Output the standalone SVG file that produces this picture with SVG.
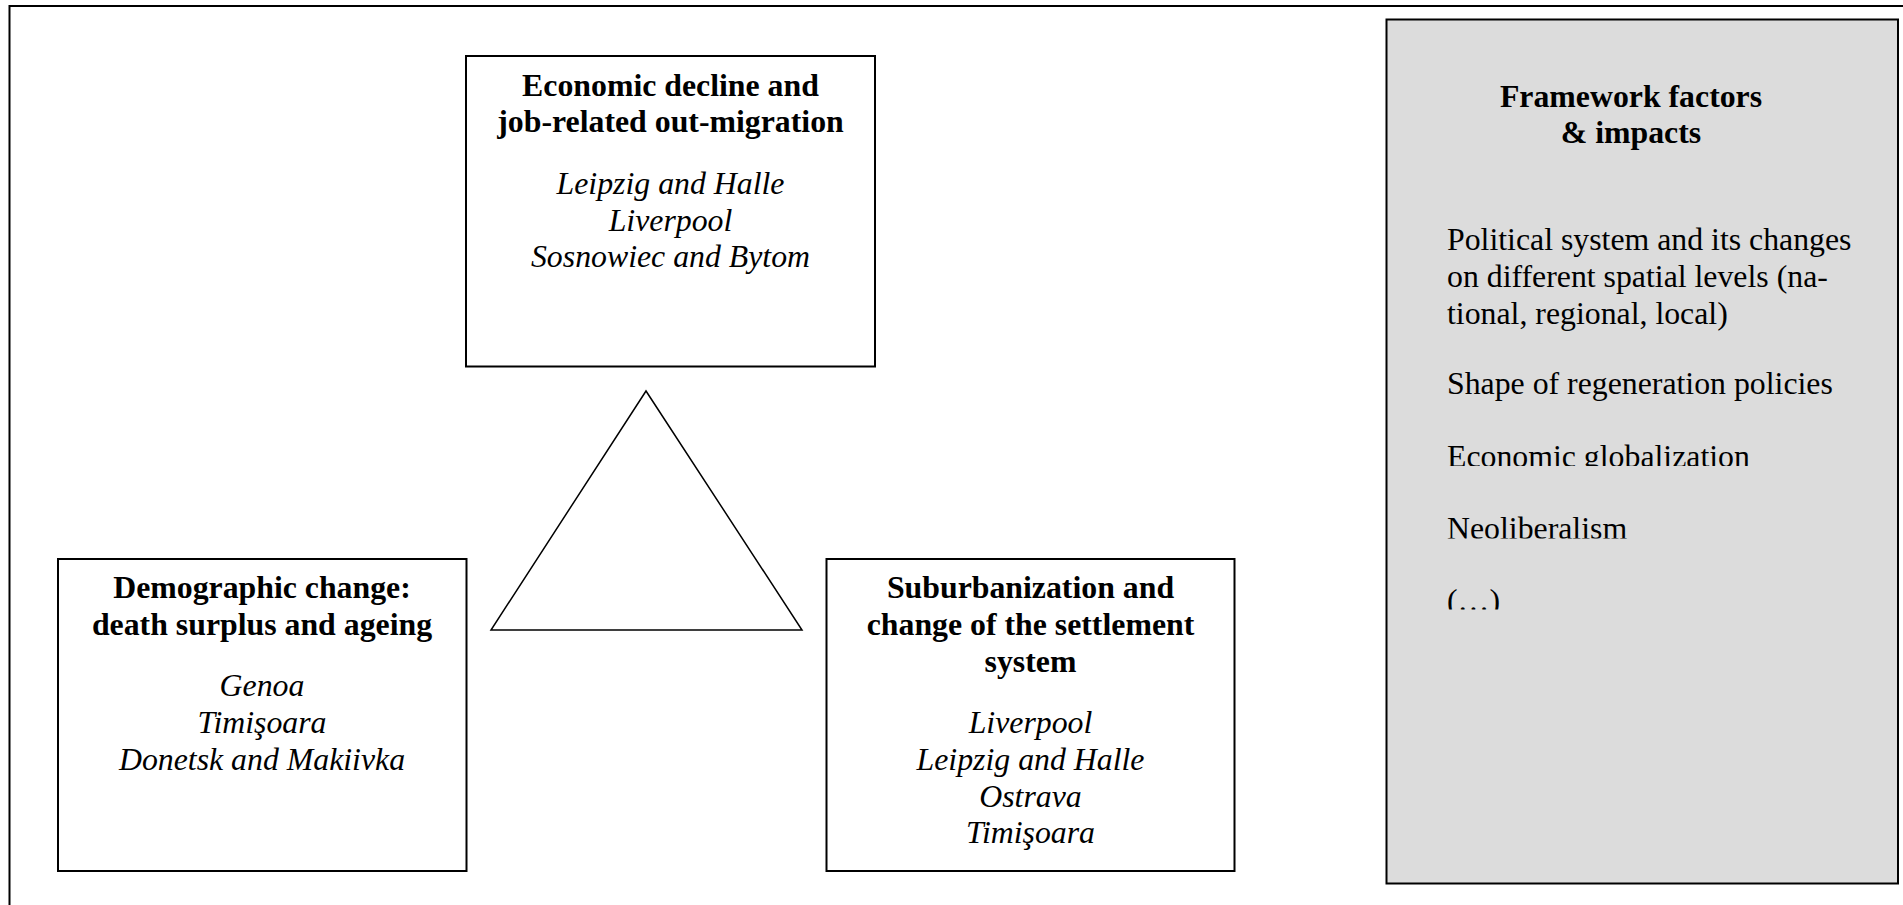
<svg xmlns="http://www.w3.org/2000/svg" width="1903" height="905" viewBox="0 0 1903 905">
<defs>
<style>
.box{fill:#ffffff;stroke:#000;stroke-width:2}
.grey{fill:#dcdcdc;stroke:#000;stroke-width:2}
.t{font-family:"Liberation Serif","Times New Roman",serif;font-size:31.8px;fill:#000}
.b{font-weight:bold;text-anchor:middle}
.i{font-style:italic;text-anchor:middle}
.frame{fill:none;stroke:#000;stroke-width:2}
.tri{fill:#fff;stroke:#000;stroke-width:1.5;stroke-linejoin:miter}
</style>
<clipPath id="c1"><rect x="1386" y="430" width="512" height="36"/></clipPath>
<clipPath id="c2"><rect x="1386" y="500" width="512" height="38.5"/></clipPath>
<clipPath id="c3"><rect x="1386" y="570" width="512" height="39.5"/></clipPath>
</defs>
<rect width="1903" height="905" fill="#fff"/>
<g id="frame">
<path class="frame" d="M9.5,905 V6 H1903"/>
</g>
<g id="connectors">
<polygon class="tri" points="646,391 491,630 802,630"/>
</g>
<g id="economic">
<rect class="box" x="466" y="56" width="409" height="310.5"/>
<text class="t b" x="670.5" y="96">Economic decline and</text>
<text class="t b" x="670.5" y="131.7">job-related out-migration</text>
<text class="t i" x="670.5" y="194.3">Leipzig and Halle</text>
<text class="t i" x="670.5" y="230.5">Liverpool</text>
<text class="t i" x="670.5" y="266.7">Sosnowiec and Bytom</text>
</g>
<g id="demographic">
<rect class="box" x="58" y="559" width="408.5" height="312"/>
<text class="t b" x="262" y="598.3">Demographic change:</text>
<text class="t b" x="262" y="635">death surplus and ageing</text>
<text class="t i" x="262" y="696.3">Genoa</text>
<text class="t i" x="262" y="733.3">Timişoara</text>
<text class="t i" x="262" y="770">Donetsk and Makiivka</text>
</g>
<g id="suburbanization">
<rect class="box" x="826.5" y="559" width="408" height="312"/>
<text class="t b" x="1030.5" y="598.3">Suburbanization and</text>
<text class="t b" x="1030.5" y="635">change of the settlement</text>
<text class="t b" x="1030.5" y="671.7">system</text>
<text class="t i" x="1030.5" y="733.3">Liverpool</text>
<text class="t i" x="1030.5" y="770">Leipzig and Halle</text>
<text class="t i" x="1030.5" y="806.7">Ostrava</text>
<text class="t i" x="1030.5" y="843.3">Timişoara</text>
</g>
<g id="framework">
<rect class="grey" x="1386.5" y="19.5" width="511.5" height="864"/>
<text class="t b" x="1631" y="106.7">Framework factors</text>
<text class="t b" x="1631" y="142.7">&amp; impacts</text>
<text class="t" x="1447" y="250">Political system and its changes</text>
<text class="t" x="1447" y="286.5">on different spatial levels (na-</text>
<text class="t" x="1447" y="324">tional, regional, local)</text>
<text class="t" x="1447" y="394">Shape of regeneration policies</text>
<text class="t" x="1447" y="467" clip-path="url(#c1)">Economic globalization</text>
<text class="t" x="1447" y="539" clip-path="url(#c2)">Neoliberalism</text>
<text class="t" x="1447" y="611" clip-path="url(#c3)">(…)</text>
</g>
</svg>
